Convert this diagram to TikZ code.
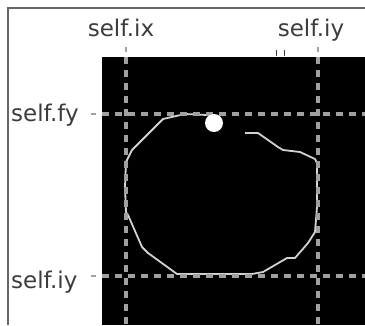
\documentclass[tikz,border=0pt]{standalone}
\usepackage{fontspec}
\setmainfont{DejaVu Sans}
\usepackage{xcolor}
\usetikzlibrary{positioning}
\definecolor{labelgray}{HTML}{3C3C3C}
\definecolor{gridgray}{HTML}{A0A0A0}
\definecolor{framegray}{HTML}{666666}
\definecolor{contourgray}{HTML}{D2D2D2}

\begin{document}
\begin{tikzpicture}[
  x=1pt, y=-1pt,
  lbl/.style={inner sep=0pt, text=labelgray, font=\fontsize{23}{26}\selectfont},
  grid/.style={draw=gridgray, line width=3.2pt, dash pattern=on 7pt off 6pt},
  tick/.style={draw=gridgray, line width=2pt},
  contour/.style={draw=contourgray, line width=1.8pt, line join=round},
]
\useasboundingbox (0,0) rectangle (365,325);
% frame and image area
\draw[framegray, line width=2pt] (8,325) -- (8,8) -- (365,8);
\fill[black] (102,57) rectangle (365,325);

% labels
\node[lbl, anchor=base] (ix) at (121,36) {self.ix};
\node[lbl, anchor=base] (iytop) at (311,36) {self.iy};
\node[lbl, anchor=base west] (fy) at (11,121) {self.fy};
\node[lbl, anchor=base west] (iyleft) at (11,288) {self.iy};

% grid coordinates
\coordinate (vxa) at (126,57);  \coordinate (vxb) at (126,325);
\coordinate (vya) at (318,57);  \coordinate (vyb) at (318,325);
\coordinate (hfa) at (102,114); \coordinate (hfb) at (365,114);
\coordinate (hia) at (102,276); \coordinate (hib) at (365,276);

% ticks
\draw[tick] (126,47) -- (126,52);
\draw[tick] (318,47) -- (318,52);
\draw[tick] (91,114) -- (96,114);
\draw[tick] (91,276) -- (96,276);
\draw[labelgray, line width=1pt] (276,50) -- (276,56) (284,50) -- (284,56);

% contour
\draw[contour] (245,133) -- (258,133) -- (278,147) -- (283,150) -- (300,152)
  -- (315,159) -- (317,163) -- (317,207) -- (315,232) -- (308,243)
  -- (295,258) -- (287,258) -- (263,272) -- (252,274) -- (177,274)
  -- (148,253) -- (142,247) -- (128,215) -- (126,212) -- (125,187)
  -- (126,162) -- (132,150) -- (163,119) -- (185,114) -- (207,115);

% dashed guides
\draw[grid] (vxa) -- (vxb);
\draw[grid] (vya) -- (vyb);
\draw[grid] (hfa) -- (hfb);
\draw[grid] (hia) -- (hib);

\fill[white] (214,123) circle (9);
\end{tikzpicture}
\end{document}
